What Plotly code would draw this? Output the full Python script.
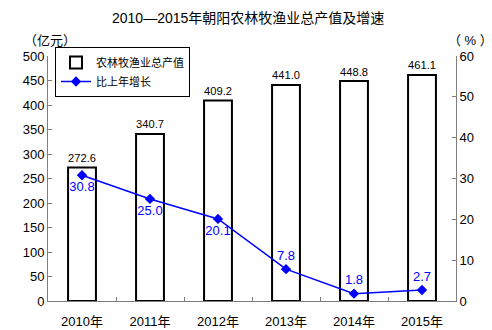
import plotly.graph_objects as go

# Agricultural, forestry, animal husbandry and fishery output of Chaoyang, 2010–2015
years = ["2010年", "2011年", "2012年", "2013年", "2014年", "2015年"]
output_value = [272.6, 340.7, 409.2, 441.0, 448.8, 461.1]   # 亿元
growth_rate = [30.8, 25.0, 20.1, 7.8, 1.8, 2.7]              # %
growth_label_pos = ["bottom center", "bottom center", "bottom center",
                    "top center", "top center", "top center"]

CJK = "Liberation Sans, Noto Sans CJK SC, sans-serif"
AXIS_GRAY = "#7f7f7f"

# plot area in pixels: x 48..456, y 56..301
PLOT_TOP, PLOT_H, PLOT_L, PLOT_W = 56, 245, 48, 408


def px_x(x):
    return (x - PLOT_L) / PLOT_W


def px_y(y):
    return 1 + (PLOT_TOP - y) / PLOT_H


fig = go.Figure()

fig.add_trace(go.Bar(
    x=years, y=output_value, name="农林牧渔业总产值",
    width=0.41,
    marker=dict(color="white", line=dict(color="black", width=2)),
    text=[f"{v:.1f}" for v in output_value],
    textposition="outside", cliponaxis=False,
    textfont=dict(size=13, color="black", family=CJK),
))

fig.add_trace(go.Scatter(
    x=years, y=growth_rate, name="比上年增长", yaxis="y2",
    mode="lines+markers+text",
    line=dict(color="#0000ff", width=1.5),
    marker=dict(symbol="diamond", size=8, color="#0000ff"),
    text=[f"{v:.1f}" for v in growth_rate],
    textposition=growth_label_pos, cliponaxis=False,
    textfont=dict(size=13, color="#0000ff", family=CJK),
))

fig.update_layout(
    width=492, height=330,
    margin=dict(l=48, r=36, t=56, b=29, autoexpand=False),
    paper_bgcolor="white", plot_bgcolor="white",
    font=dict(family=CJK, size=13, color="black"),
    showlegend=True,
    legend=dict(
        x=px_x(55), y=px_y(47), xanchor="left", yanchor="top",
        bgcolor="white", bordercolor="black", borderwidth=1,
        font=dict(size=11, family=CJK),
        tracegroupgap=0, itemwidth=30,
    ),
    xaxis=dict(
        type="category", showline=True, linecolor=AXIS_GRAY, linewidth=1,
        ticks="inside", ticklen=4, tickcolor=AXIS_GRAY, tickson="boundaries",
        showgrid=False, zeroline=False, automargin=False,
        ticklabelstandoff=8,
        tickfont=dict(size=13, family=CJK),
    ),
    yaxis=dict(
        range=[0, 500], dtick=50, showline=True, linecolor=AXIS_GRAY,
        ticks="inside", ticklen=4, tickcolor=AXIS_GRAY,
        showgrid=False, zeroline=False, automargin=False,
        tickfont=dict(size=13, family=CJK),
    ),
    yaxis2=dict(
        range=[0, 60], dtick=10, overlaying="y", side="right",
        showline=True, linecolor=AXIS_GRAY,
        ticks="inside", ticklen=4, tickcolor=AXIS_GRAY,
        showgrid=False, zeroline=False, automargin=False,
        tickfont=dict(size=13, family=CJK),
    ),
    annotations=[
        dict(text="2010—2015年朝阳农林牧渔业总产值及增速", xref="paper", yref="paper",
             x=px_x(248), y=px_y(18),
             xanchor="center", yanchor="middle", showarrow=False,
             font=dict(size=14, family=CJK, color="black")),
        dict(text="（亿元）", xref="paper", yref="paper",
             x=px_x(50), y=px_y(40),
             xanchor="center", yanchor="middle", showarrow=False,
             font=dict(size=13, family=CJK)),
        dict(text="（ % ）", xref="paper", yref="paper",
             x=px_x(470), y=px_y(40),
             xanchor="center", yanchor="middle", showarrow=False,
             font=dict(size=13, family=CJK)),
    ],
)

fig.write_html("out.html")
